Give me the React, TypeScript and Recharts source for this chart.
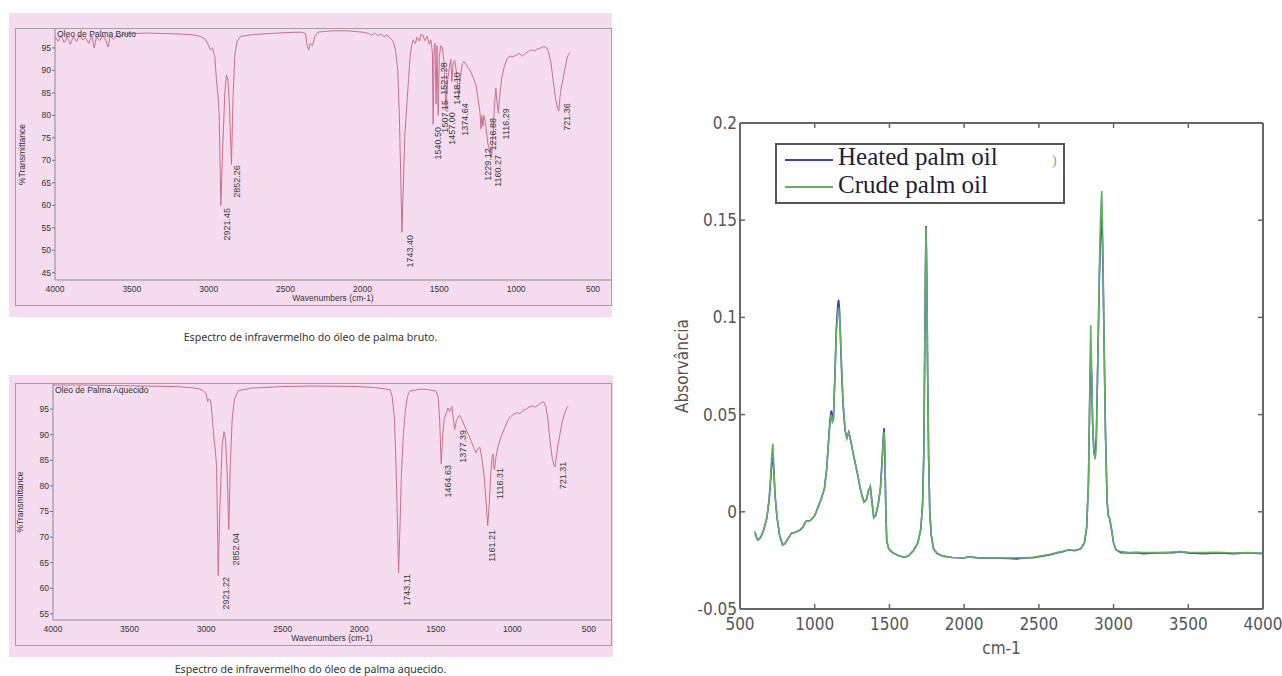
import React from 'react';
import { ComposedChart, LineChart, Line, Scatter, XAxis, YAxis, Legend } from 'recharts';

// ---------- Crude palm oil transmittance (wavenumber, %T) ----------
const crudeSpectrum: [number, number][] = [
  [4000, 97.5], [3980, 96.5], [3960, 97.8], [3940, 96.2], [3920, 97.4], [3900, 95.8], [3880, 97.6],
  [3860, 96.4], [3840, 97.9], [3820, 96.8], [3800, 97.2], [3780, 96.0], [3760, 97.8], [3745, 95.0],
  [3730, 97.5], [3710, 96.6], [3690, 97.9], [3670, 96.7], [3655, 95.2], [3640, 97.6], [3620, 96.9],
  [3600, 97.9], [3580, 97.2], [3560, 98.0], [3500, 98.2], [3400, 98.3], [3300, 98.2], [3200, 98.1],
  [3100, 97.9], [3050, 97.5], [3020, 96.8], [3000, 95.5], [2990, 94.5], [2975, 95.0], [2960, 93.0],
  [2950, 88.0], [2940, 84.5], [2932, 80], [2921, 60], [2910, 72], [2895, 85], [2885, 89], [2875, 88],
  [2865, 82], [2852, 69], [2842, 84], [2830, 93.5], [2815, 96.5], [2790, 97.6], [2700, 98.0],
  [2600, 98.2], [2500, 98.4], [2400, 98.5], [2370, 98.2], [2360, 95.5], [2350, 94.5], [2340, 96.0],
  [2325, 95.5], [2310, 97.5], [2290, 98.5], [2200, 98.8], [2100, 98.8], [2000, 98.5], [1960, 98.2],
  [1940, 97.8], [1920, 98.3], [1900, 97.7], [1880, 98.1], [1860, 97.5], [1840, 97.9], [1820, 97.2],
  [1800, 96.5], [1785, 94.5], [1770, 90], [1760, 80], [1750, 65], [1743, 54], [1736, 62], [1725, 75],
  [1712, 82], [1700, 88], [1690, 93], [1680, 95.5], [1670, 96.8], [1655, 96], [1645, 97.4],
  [1630, 96.5], [1620, 98], [1605, 97.8], [1595, 96.6], [1580, 97.6], [1565, 95.8], [1555, 96.8],
  [1545, 94], [1540, 78], [1535, 94], [1528, 96], [1521, 82.5], [1515, 95.5], [1507, 80], [1500, 93],
  [1490, 95.5], [1480, 95], [1470, 92], [1457, 81], [1445, 88], [1435, 90.5], [1425, 92.5],
  [1418, 87.5], [1410, 91.8], [1400, 92.2], [1390, 90], [1380, 86], [1374, 84], [1365, 88],
  [1350, 91.5], [1340, 92], [1320, 91], [1300, 90], [1280, 88.5], [1260, 86.5], [1245, 83],
  [1235, 80.5], [1229, 77], [1224, 80], [1216, 77.5], [1210, 80], [1200, 78.5], [1185, 74],
  [1170, 71.5], [1160, 70.5], [1150, 76], [1140, 83], [1132, 86], [1125, 83], [1116, 80.5],
  [1108, 84], [1095, 88], [1080, 90.5], [1060, 92.5], [1040, 93.2], [1020, 93], [1000, 93.4],
  [980, 93.8], [960, 93.2], [940, 93.8], [920, 94.2], [900, 94.6], [880, 94.3], [860, 94.8],
  [840, 95.0], [820, 95.3], [800, 95.0], [790, 94.2], [775, 92.0], [760, 88], [745, 84],
  [730, 81.5], [722, 81], [715, 84], [705, 86.5], [695, 88], [685, 90], [675, 91.5], [668, 93],
  [660, 93.5], [650, 94],
];

// peak label: text, label anchor wavenumber, label anchor %T
const crudePeaks: [string, number, number][] = [
  ['2921.45', 2881, 59.4], ['2852.26', 2816, 68.9], ['1743.40', 1690, 53.4],
  ['1540.50', 1508, 77.4], ['1521.28', 1472, 91.8], ['1507.15', 1466, 83.4],
  ['1457.00', 1417, 80.7], ['1418.10', 1385, 89.6], ['1374.64', 1332, 82.7],
  ['1229.12', 1186, 72.7], ['1216.88', 1150, 79.4], ['1160.27', 1115, 71.2],
  ['1116.29', 1066, 81.6], ['721.36', 669, 82.7],
];

// ---------- Heated palm oil transmittance ----------
const heatedSpectrum: [number, number][] = [
  [4000, 99.7], [3800, 99.7], [3600, 99.6], [3400, 99.5], [3200, 99.4], [3100, 99.2], [3050, 99.0],
  [3020, 98.6], [3000, 98.0], [2990, 96.5], [2980, 97.0], [2970, 96.6], [2960, 93.5], [2950, 89.5],
  [2940, 87], [2932, 84], [2921, 62.5], [2910, 76], [2895, 88], [2883, 90.6], [2873, 89], [2862, 82],
  [2852, 71.5], [2842, 84], [2830, 93], [2815, 97], [2790, 98.6], [2700, 99.1], [2500, 99.4],
  [2300, 99.5], [2000, 99.4], [1900, 99.2], [1800, 98.8], [1785, 97.5], [1770, 93], [1760, 84],
  [1750, 72], [1743, 63], [1736, 70], [1725, 82], [1712, 90], [1700, 94.5], [1685, 97.5],
  [1670, 98.5], [1600, 98.9], [1550, 98.8], [1500, 98.5], [1485, 97.5], [1475, 93], [1465, 84.3],
  [1455, 90], [1445, 93], [1430, 94.4], [1420, 95.2], [1410, 94.5], [1395, 95.5], [1385, 93],
  [1377, 91], [1365, 92.8], [1345, 93.8], [1330, 93], [1310, 91.5], [1290, 90.2], [1270, 88.8],
  [1250, 87.3], [1238, 86.5], [1225, 87.3], [1212, 87.5], [1200, 85.5], [1185, 82], [1172, 77],
  [1161, 72.2], [1152, 76], [1142, 82], [1132, 85.8], [1126, 86.2], [1121, 83.5], [1116, 83.2],
  [1108, 85.5], [1095, 87.5], [1075, 89.5], [1055, 91], [1030, 92.8], [1010, 93.6], [990, 94],
  [970, 94.3], [950, 94.1], [930, 94.8], [910, 95], [890, 95.4], [870, 95.6], [850, 95.4],
  [830, 95.8], [810, 96.3], [795, 96.4], [782, 95.5], [770, 93.5], [755, 89], [740, 85.5],
  [728, 84], [721, 83.7], [714, 85.5], [702, 88], [690, 90], [675, 92.5], [660, 94], [645, 95.2],
  [636, 95.6],
];

const heatedPeaks: [string, number, number][] = [
  ['2921.22', 2870, 62.2], ['2852.04', 2805, 70.8], ['1743.11', 1690, 62.8],
  ['1464.63', 1419, 84.1], ['1377.39', 1321, 90.9], ['1161.21', 1135, 71.4],
  ['1116.31', 1081, 83.5], ['721.31', 668, 84.7],
];

const transXTicks = [4000, 3500, 3000, 2500, 2000, 1500, 1000, 500];
const crudeYTicks = [45, 50, 55, 60, 65, 70, 75, 80, 85, 90, 95];
const heatedYTicks = [55, 60, 65, 70, 75, 80, 85, 90, 95];

// ---------- Absorbance (wavenumber, heated, crude) ----------
const absSpectrum: [number, number, number][] = [
  [600, -0.011, -0.010], [610, -0.013, -0.013], [620, -0.0145, -0.0145], [640, -0.013, -0.013],
  [660, -0.009, -0.009], [680, -0.003, -0.003], [695, 0.006, 0.007], [705, 0.016, 0.018],
  [713, 0.026, 0.030], [720, 0.028, 0.035], [727, 0.020, 0.022], [735, 0.008, 0.008],
  [748, -0.003, -0.003], [765, -0.012, -0.012], [785, -0.017, -0.017], [800, -0.0165, -0.0165],
  [820, -0.014, -0.014], [845, -0.011, -0.011], [870, -0.0105, -0.0105], [900, -0.0095, -0.0095],
  [920, -0.008, -0.008], [940, -0.005, -0.005], [970, -0.0045, -0.0045], [1000, -0.002, -0.002],
  [1020, 0.002, 0.002], [1045, 0.007, 0.007], [1065, 0.012, 0.012], [1080, 0.022, 0.022],
  [1092, 0.036, 0.035], [1102, 0.047, 0.045], [1110, 0.052, 0.050], [1118, 0.050, 0.046],
  [1125, 0.048, 0.047], [1135, 0.070, 0.068], [1145, 0.095, 0.093], [1155, 0.107, 0.102],
  [1160, 0.109, 0.105], [1166, 0.104, 0.100], [1172, 0.090, 0.092], [1180, 0.072, 0.075],
  [1190, 0.055, 0.056], [1203, 0.042, 0.042], [1215, 0.038, 0.038], [1228, 0.041, 0.041],
  [1240, 0.037, 0.037], [1260, 0.029, 0.029], [1285, 0.020, 0.020], [1310, 0.010, 0.010],
  [1330, 0.005, 0.005], [1345, 0.006, 0.006], [1360, 0.011, 0.011], [1372, 0.013, 0.013],
  [1382, 0.006, 0.006], [1395, -0.003, -0.003], [1408, -0.002, -0.002], [1425, 0.004, 0.004],
  [1440, 0.012, 0.012], [1452, 0.028, 0.027], [1460, 0.040, 0.038], [1465, 0.043, 0.041],
  [1470, 0.025, 0.030], [1476, 0.000, 0.001], [1482, -0.015, -0.015], [1495, -0.019, -0.019],
  [1520, -0.021, -0.021], [1560, -0.0225, -0.0225], [1600, -0.0235, -0.0235], [1630, -0.0225, -0.0225],
  [1660, -0.020, -0.020], [1690, -0.016, -0.016], [1710, -0.009, -0.009], [1722, 0.004, 0.004],
  [1730, 0.030, 0.030], [1736, 0.080, 0.080], [1741, 0.125, 0.120], [1745, 0.147, 0.146],
  [1750, 0.120, 0.125], [1755, 0.075, 0.080], [1762, 0.030, 0.030], [1770, 0.000, 0.000],
  [1780, -0.012, -0.012], [1795, -0.019, -0.019], [1820, -0.0215, -0.0215], [1860, -0.0228, -0.0228],
  [1920, -0.0235, -0.0235], [2000, -0.0238, -0.0236], [2030, -0.0232, -0.0232], [2100, -0.0238, -0.0237],
  [2200, -0.0238, -0.0238], [2300, -0.024, -0.0238], [2350, -0.0242, -0.0236], [2400, -0.0238, -0.0236],
  [2460, -0.0236, -0.0234], [2520, -0.0228, -0.0226], [2570, -0.0222, -0.0220], [2620, -0.0212, -0.0210],
  [2660, -0.0205, -0.0203], [2700, -0.0195, -0.0195], [2740, -0.0200, -0.0198], [2780, -0.0190, -0.0190],
  [2805, -0.0160, -0.0160], [2820, -0.0080, -0.0080], [2832, 0.0150, 0.0150], [2840, 0.055, 0.060],
  [2847, 0.082, 0.096], [2853, 0.070, 0.075], [2860, 0.045, 0.045], [2868, 0.032, 0.030],
  [2877, 0.028, 0.027], [2885, 0.040, 0.035], [2895, 0.080, 0.080], [2905, 0.120, 0.125],
  [2914, 0.145, 0.155], [2921, 0.153, 0.165], [2928, 0.130, 0.138], [2936, 0.090, 0.090],
  [2946, 0.040, 0.040], [2957, 0.005, 0.005], [2965, -0.002, -0.002], [2975, -0.004, -0.004],
  [2988, -0.010, -0.010], [3000, -0.016, -0.016], [3015, -0.0195, -0.0195], [3050, -0.021, -0.0205],
  [3100, -0.0212, -0.021], [3150, -0.021, -0.0208], [3200, -0.0215, -0.021], [3300, -0.0212, -0.021],
  [3400, -0.021, -0.0207], [3450, -0.0205, -0.0205], [3500, -0.0212, -0.0208], [3600, -0.0215, -0.021],
  [3700, -0.0212, -0.0208], [3800, -0.0215, -0.0212], [3900, -0.0212, -0.021], [4000, -0.0215, -0.0213],
];

const absXTicks = [500, 1000, 1500, 2000, 2500, 3000, 3500, 4000];
const absYTicks = [-0.05, 0, 0.05, 0.1, 0.15, 0.2];
const seriesNames = ['Heated palm oil', 'Crude palm oil'];

// ---------- derived tables ----------
const crudeData = crudeSpectrum.map(([w, t]) => ({ w, t }));
const heatedData = heatedSpectrum.map(([w, t]) => ({ w, t }));
const crudePeakData = crudePeaks.map(([text, w, t]) => ({ text, w, t }));
const heatedPeakData = heatedPeaks.map(([text, w, t]) => ({ text, w, t }));
const absData = absSpectrum.map(([w, heated, crude]) => ({ w, heated, crude }));

const PINK = '#f6dcef';
const SPEC = '#c8708e';
const ARIAL = "'Liberation Sans', Arial, sans-serif";
const NARROW = "'Liberation Sans Narrow', 'DejaVu Sans Condensed', 'Liberation Sans', sans-serif";
const BLUE = '#3c3fb8';
const GREEN = '#62b062';
const seriesColors = [BLUE, GREEN];

const PeakLabel = (props: any) => {
  const { cx, cy, payload } = props;
  if (cx == null || cy == null) return <g />;
  return (
    <text
      x={cx}
      y={cy}
      transform={`rotate(-90 ${cx} ${cy})`}
      textAnchor="end"
      dominantBaseline="central"
      fontSize={9}
      fill="#3a3a3a"
      fontFamily={ARIAL}
    >
      {payload.text}
    </text>
  );
};

const smallTick = { fontSize: 8.5, fill: '#333', fontFamily: ARIAL };
const smallLabelStyle = { fontSize: 8.5, fill: '#333', fontFamily: ARIAL, textAnchor: 'middle' as const };

function TransChart(props: {
  data: { w: number; t: number }[];
  peaks: { text: string; w: number; t: number }[];
  xDomain: [number, number];
  yDomain: [number, number];
  yTicks: number[];
  width: number;
  height: number;
  margin: { top: number; right: number; bottom: number; left: number };
}) {
  const { data, peaks, xDomain, yDomain, yTicks, width, height, margin } = props;
  return (
    <ComposedChart width={width} height={height} margin={margin}>
      <XAxis
        dataKey="w"
        type="number"
        domain={xDomain}
        reversed
        allowDataOverflow
        ticks={transXTicks}
        interval={0}
        height={12}
        tickLine={false}
        tickMargin={0}
        axisLine={{ stroke: '#8a8a8a' }}
        tick={smallTick}
        label={{ value: 'Wavenumbers (cm-1)', position: 'bottom', offset: 3, style: smallLabelStyle }}
      />
      <YAxis
        type="number"
        domain={yDomain}
        allowDataOverflow
        ticks={yTicks}
        interval={0}
        width={40}
        tickSize={3}
        tickMargin={1}
        axisLine={{ stroke: '#8a8a8a' }}
        tickLine={{ stroke: '#777' }}
        tick={smallTick}
        label={{ value: '%Transmittance', angle: -90, position: 'insideLeft', offset: 7, style: smallLabelStyle }}
      />
      <Line data={data} dataKey="t" type="linear" stroke={SPEC} strokeWidth={1} dot={false} isAnimationActive={false} />
      <Scatter data={peaks} dataKey="t" shape={PeakLabel} isAnimationActive={false} />
    </ComposedChart>
  );
}

const LegendBox = (props: any) => {
  const payload: any[] = props && props.payload ? props.payload : [];
  const rows = seriesNames.map((name, i) => {
    const p = payload.find((e: any) => e && e.value === name);
    return { name, color: p && p.color ? p.color : seriesColors[i] };
  });
  return (
    <svg width={290} height={61} style={{ display: 'block' }}>
      <rect x={1} y={1} width={288} height={59} fill="#fff" stroke="#555" strokeWidth={2} />
      {rows.map((r, i) => (
        <g key={r.name}>
          <line x1={10} x2={58} y1={17 + i * 27} y2={17 + i * 27} stroke={r.color} strokeWidth={2} />
          <text x={63} y={22 + i * 28} fontSize={25} fill="#221e38" fontFamily="'Liberation Serif', 'DejaVu Serif', serif">
            {r.name}
          </text>
        </g>
      ))}
      <text x={277} y={22} fontSize={14} fill="#999" fontFamily="'Liberation Serif', serif">)</text>
    </svg>
  );
};

const axisStroke = { stroke: '#666', strokeWidth: 2 };
const tickStroke = { stroke: '#666', strokeWidth: 1.5 };
const bigTick = { fontSize: 17, fill: '#555', fontFamily: NARROW };

function AbsChart() {
  return (
    <LineChart width={622} height={560} data={absData} margin={{ top: 22, right: 18, bottom: 21, left: 0 }}>
      <XAxis
        dataKey="w"
        type="number"
        domain={[500, 4000]}
        allowDataOverflow
        ticks={absXTicks}
        interval={0}
        height={30}
        tickSize={-5}
        tickMargin={14}
        axisLine={axisStroke}
        tickLine={tickStroke}
        tick={bigTick}
        label={{ value: 'cm-1', position: 'bottom', offset: 3, style: { fontSize: 17, fill: '#555', fontFamily: NARROW } }}
      />
      <XAxis
        xAxisId="top"
        orientation="top"
        dataKey="w"
        type="number"
        domain={[500, 4000]}
        allowDataOverflow
        ticks={absXTicks}
        interval={0}
        height={1}
        tickSize={-5}
        tickFormatter={() => ''}
        axisLine={axisStroke}
        tickLine={tickStroke}
      />
      <YAxis
        type="number"
        domain={[-0.05, 0.2]}
        allowDataOverflow
        ticks={absYTicks}
        interval={0}
        width={80}
        tickSize={-5}
        tickMargin={8}
        axisLine={axisStroke}
        tickLine={tickStroke}
        tick={bigTick}
        label={{
          value: 'Absorvância',
          angle: -90,
          position: 'insideLeft',
          offset: 22,
          style: { fontSize: 17, fill: '#555', fontFamily: NARROW, textAnchor: 'middle' },
        }}
      />
      <YAxis
        yAxisId="right"
        orientation="right"
        type="number"
        domain={[-0.05, 0.2]}
        allowDataOverflow
        ticks={absYTicks}
        interval={0}
        width={1}
        tickSize={-5}
        tickFormatter={() => ''}
        axisLine={axisStroke}
        tickLine={tickStroke}
      />
      <Legend
        layout="horizontal"
        verticalAlign="middle"
        align="center"
        wrapperStyle={{ left: 115, top: 43, width: 290, height: 61 }}
        content={LegendBox}
      />
      <Line dataKey="heated" name={seriesNames[0]} type="linear" stroke={BLUE} strokeWidth={1.6} dot={false} isAnimationActive={false} />
      <Line
        dataKey="crude"
        name={seriesNames[1]}
        xAxisId="top"
        yAxisId="right"
        type="linear"
        stroke={GREEN}
        strokeWidth={1.6}
        dot={false}
        isAnimationActive={false}
      />
    </LineChart>
  );
}

export default function App() {
  const pos = (l: number, t: number, w: number, h: number): React.CSSProperties => ({
    position: 'absolute', left: l, top: t, width: w, height: h,
  });
  const caption: React.CSSProperties = {
    position: 'absolute', left: 9, width: 603, textAlign: 'center',
    fontFamily: "'Noto Sans', 'DejaVu Sans', sans-serif", fontSize: 10.6, color: '#333', lineHeight: '12px',
  };
  const title: React.CSSProperties = {
    position: 'absolute', fontFamily: ARIAL, fontSize: 8.5, color: '#333', lineHeight: '10px', whiteSpace: 'nowrap',
  };
  return (
    <div style={{ position: 'absolute', left: 0, top: 0, width: 1282, height: 676, background: '#fff', overflow: 'hidden' }}>
      {/* top-left: crude */}
      <div style={{ ...pos(9, 13, 603, 304), background: PINK }} />
      <div style={{ ...pos(15, 28, 597, 278), border: '1px solid #a0a0a0', boxSizing: 'border-box' }} />
      <div style={pos(9, 13, 603, 304)}>
        <TransChart
          data={crudeData}
          peaks={crudePeakData}
          xDomain={[383, 4000]}
          yDomain={[43.4, 99.2]}
          yTicks={crudeYTicks}
          width={603}
          height={304}
          margin={{ top: 16, right: 1, bottom: 25, left: 6 }}
        />
      </div>
      <div style={{ ...title, left: 57, top: 29 }}>Oleo de Palma Bruto</div>
      <div style={{ ...caption, top: 331 }}>Espectro de infravermelho do óleo de palma bruto.</div>

      {/* bottom-left: heated */}
      <div style={{ ...pos(9, 375, 604, 282), background: PINK }} />
      <div style={{ ...pos(15, 383, 597, 263), border: '1px solid #a0a0a0', boxSizing: 'border-box' }} />
      <div style={pos(9, 375, 604, 282)}>
        <TransChart
          data={heatedData}
          peaks={heatedPeakData}
          xDomain={[356, 4000]}
          yDomain={[53.8, 99.9]}
          yTicks={heatedYTicks}
          width={604}
          height={282}
          margin={{ top: 9, right: 2, bottom: 25, left: 4 }}
        />
      </div>
      <div style={{ ...title, left: 55, top: 385 }}>Oleo de Palma Aquecido</div>
      <div style={{ ...caption, top: 663 }}>Espectro de infravermelho do óleo de palma aquecido.</div>

      {/* right: absorbance */}
      <div style={pos(660, 100, 622, 560)}>
        <AbsChart />
      </div>
    </div>
  );
}
